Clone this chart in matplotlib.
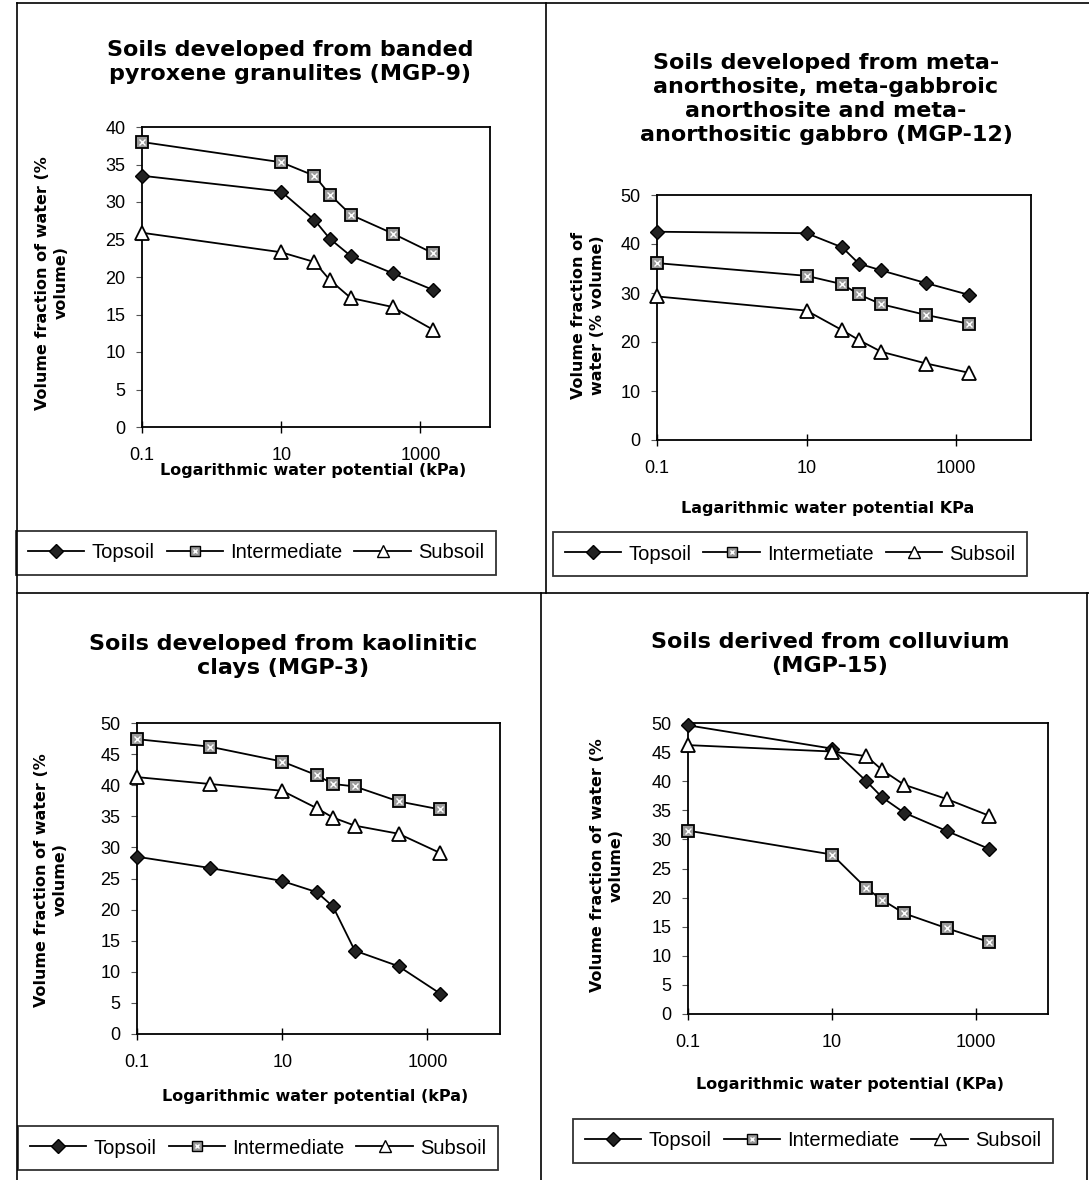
import numpy as np
import matplotlib
matplotlib.use("Agg")
import matplotlib.pyplot as plt
from matplotlib.lines import Line2D
from matplotlib.legend_handler import HandlerTuple

# water potential (kPa)
x7 = [0.1, 10, 30, 50, 100, 400, 1500]
x8 = [0.1, 1, 10, 30, 50, 100, 400, 1500]

# MGP-9
p1_top = [33.5, 31.4, 27.6, 25.1, 22.8, 20.5, 18.3]
p1_int = [38.0, 35.3, 33.5, 31.0, 28.3, 25.8, 23.2]
p1_sub = [25.9, 23.3, 22.0, 19.6, 17.2, 16.0, 13.0]

# MGP-12
p2_top = [42.5, 42.2, 39.3, 36.0, 34.6, 32.0, 29.6]
p2_int = [36.1, 33.5, 31.8, 29.7, 27.7, 25.5, 23.7]
p2_sub = [29.3, 26.4, 22.4, 20.4, 18.0, 15.6, 13.7]

# MGP-3
p3_top = [28.5, 26.7, 24.6, 22.8, 20.5, 13.4, 10.9, 6.5]
p3_int = [47.4, 46.2, 43.8, 41.6, 40.2, 39.8, 37.4, 36.1]
p3_sub = [41.3, 40.2, 39.1, 36.3, 34.8, 33.5, 32.2, 29.1]

# MGP-15
p4_top = [49.6, 45.6, 40.0, 37.2, 34.6, 31.4, 28.4]
p4_int = [31.5, 27.4, 21.6, 19.6, 17.3, 14.7, 12.4]
p4_sub = [46.2, 45.1, 44.3, 41.9, 39.4, 36.9, 34.1]

W, H = 1089, 1180
fig = plt.figure(figsize=(W / 100, H / 100), dpi=100)


def fx(px):
    return px / W


def fy(py):
    return 1 - py / H


def rect(l, t, r, b):
    return [fx(l), fy(b), (r - l) / W, (b - t) / H]


def draw(ax, x, top, inter, sub, ymax, ystep):
    lw = 1.3
    ax.plot(x, top, color='black', lw=lw, marker='D', ms=7.5,
            mfc='#222222', mec='black', zorder=3, clip_on=False)
    ax.plot(x, inter, color='black', lw=lw, marker='s', ms=8,
            mfc='#9a9a9a', mec='black', mew=1.3, zorder=3, clip_on=False)
    ax.plot(x, inter, ls='none', marker='x', ms=4, mec='white', mew=1.0,
            zorder=4, clip_on=False)
    ax.plot(x, sub, color='black', lw=lw, marker='^', ms=10,
            mfc='white', mec='black', mew=1.3, zorder=3, clip_on=False)
    ax.set_xscale('log')
    ax.set_xlim(0.1, 10000)
    ax.set_ylim(0, ymax)
    ax.set_xticks([0.1, 10, 1000])
    ax.set_xticklabels(['0.1', '10', '1000'])
    ax.xaxis.set_minor_locator(matplotlib.ticker.NullLocator())
    ax.set_yticks(np.arange(0, ymax + 0.1, ystep))
    ax.tick_params(axis='x', direction='inout', length=9, width=1, pad=10,
                   labelsize=13)
    ax.tick_params(axis='y', direction='out', length=4, width=0.8, pad=8,
                   labelsize=13, color='#555555')
    for s in ax.spines.values():
        s.set_linewidth(1.3)
    for lab in ax.get_xticklabels() + ax.get_yticklabels():
        lab.set_family(['Liberation Sans', 'DejaVu Sans'])


def legend(ax, cx, cy, mid_label):
    h_top = Line2D([], [], color='black', lw=1.3, marker='D', ms=7,
                   mfc='#222222', mec='black')
    h_int = (Line2D([], [], color='black', lw=1.3, marker='s', ms=7.5,
                    mfc='#9a9a9a', mec='black'),
             Line2D([], [], ls='none', marker='x', ms=3.5, mec='white', mew=1.0))
    h_sub = Line2D([], [], color='black', lw=1.3, marker='^', ms=9,
                   mfc='white', mec='black')
    leg = ax.legend([h_top, h_int, h_sub], ['Topsoil', mid_label, 'Subsoil'],
                    loc='center', bbox_to_anchor=(fx(cx), fy(cy)),
                    bbox_transform=fig.transFigure, ncol=3, frameon=True,
                    fancybox=False, edgecolor='black', handlelength=2.8,
                    handletextpad=0.35, columnspacing=0.6, borderpad=0.6,
                    handler_map={tuple: HandlerTuple(ndivide=1)},
                    prop={'family': ['Liberation Sans', 'DejaVu Sans'],
                          'size': 14.5})
    leg.get_frame().set_linewidth(1.3)


title_kw = dict(ha='center', va='center', fontsize=16, fontweight='bold',
                family='DejaVu Sans', linespacing=1.25)
lab_kw = dict(ha='center', va='center', fontsize=11.5, fontweight='bold',
              family='DejaVu Sans')

# panel 1
ax1 = fig.add_axes(rect(142, 127, 490, 427))
draw(ax1, x7, p1_top, p1_int, p1_sub, 40, 5)
fig.text(fx(290), fy(62), 'Soils developed from banded\npyroxene granulites (MGP-9)', **title_kw)
fig.text(fx(313), fy(471), 'Logarithmic water potential (kPa)', **lab_kw)
fig.text(fx(52), fy(283), 'Volume fraction of water (%\nvolume)', rotation=90,
         linespacing=1.3, **lab_kw)
legend(ax1, 256, 553, 'Intermediate')

# panel 2
ax2 = fig.add_axes(rect(657, 195, 1031, 440))
draw(ax2, x7, p2_top, p2_int, p2_sub, 50, 10)
fig.text(fx(826), fy(99), 'Soils developed from meta-\nanorthosite, meta-gabbroic\n'
         'anorthosite and meta-\nanorthositic gabbro (MGP-12)', **title_kw)
fig.text(fx(828), fy(508), 'Lagarithmic water potential KPa', **lab_kw)
fig.text(fx(588), fy(315), 'Volume fraction of\nwater (% volume)', rotation=90,
         linespacing=1.3, **lab_kw)
legend(ax2, 790, 554, 'Intermetiate')

# panel 3
ax3 = fig.add_axes(rect(137, 723, 500, 1034))
draw(ax3, x8, p3_top, p3_int, p3_sub, 50, 5)
fig.text(fx(283), fy(656), 'Soils developed from kaolinitic\nclays (MGP-3)', **title_kw)
fig.text(fx(315), fy(1097), 'Logarithmic water potential (kPa)', **lab_kw)
fig.text(fx(51), fy(880), 'Volume fraction of water (%\nvolume)', rotation=90,
         linespacing=1.3, **lab_kw)
legend(ax3, 258, 1148, 'Intermediate')

# panel 4
ax4 = fig.add_axes(rect(688, 723, 1048, 1014))
draw(ax4, x7, p4_top, p4_int, p4_sub, 50, 5)
fig.text(fx(830), fy(654), 'Soils derived from colluvium\n(MGP-15)', **title_kw)
fig.text(fx(850), fy(1085), 'Logarithmic water potential (KPa)', **lab_kw)
fig.text(fx(607), fy(865), 'Volume fraction of water (%\nvolume)', rotation=90,
         linespacing=1.3, **lab_kw)
legend(ax4, 813, 1141, 'Intermediate')

# panel borders
border = dict(color='black', lw=1.2, transform=fig.transFigure)
fig.add_artist(Line2D([fx(17), fx(1089)], [fy(3), fy(3)], **border))
fig.add_artist(Line2D([fx(17), fx(17)], [fy(3), fy(1180)], **border))
fig.add_artist(Line2D([fx(546), fx(546)], [fy(3), fy(593)], **border))
fig.add_artist(Line2D([fx(541), fx(541)], [fy(593), fy(1180)], **border))
fig.add_artist(Line2D([fx(17), fx(1089)], [fy(593), fy(593)], **border))
fig.add_artist(Line2D([fx(1087), fx(1087)], [fy(593), fy(1180)], **border))

fig.savefig('out.png', dpi=100)
